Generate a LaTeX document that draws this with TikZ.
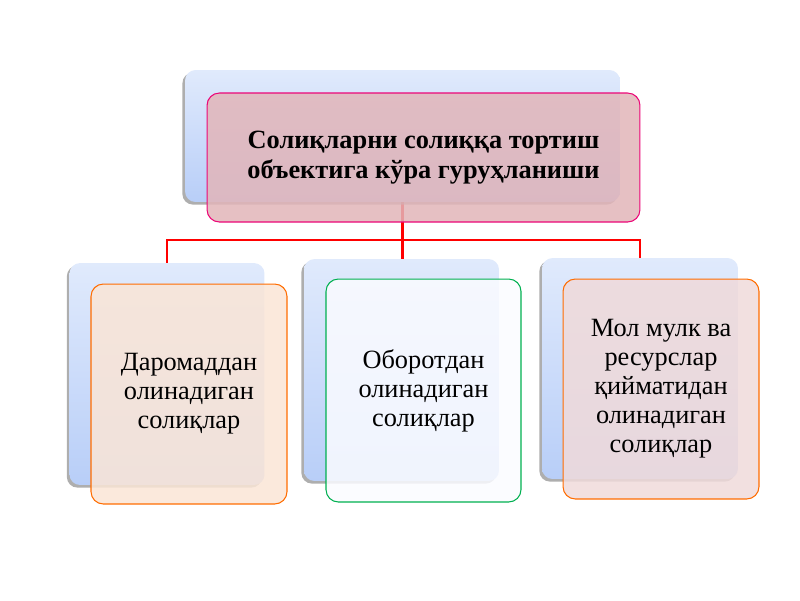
\documentclass[tikz,border=0pt]{standalone}
\usepackage{fontspec}
\setmainfont{Liberation Serif}
\usepackage{xcolor}
\usetikzlibrary{shadows}

\definecolor{backtop}{HTML}{E0EAFC}
\definecolor{backbot}{HTML}{B8CEF8}
\definecolor{linkred}{HTML}{FF0000}

\begin{document}
\begin{tikzpicture}[
    x=0.02cm, y=-0.02cm,
    backbox/.style={rectangle, rounded corners=6pt, top color=backtop, bottom color=backbot,
        drop shadow={shadow xshift=-1.5pt, shadow yshift=-1.5pt, fill=black!45, opacity=0.7}},
    frontbox/.style={rectangle, rounded corners=7pt, draw, line width=0.6pt,
        fill opacity=0.85, text opacity=1, align=center},
    link/.style={draw=linkred, line width=1.5pt}
]

% canvas
\useasboundingbox (0,0) rectangle (800,600);

% Anchors for the connectors
\coordinate (topc) at (402.5,136);
\coordinate (fork) at (402.5,240);
\coordinate (leftc) at (167,374);
\coordinate (midc) at (401.5,370);
\coordinate (rightc) at (640,368.5);

% Connectors (behind the boxes)
\draw[link] (topc) -- (fork);
\draw[link] (fork) -| (leftc);
\draw[link] (fork) -- (fork |- midc);
\draw[link] (fork) -| (rightc);

% Back boxes
\node[backbox, minimum width=8.7cm, minimum height=2.64cm] (top) at (topc) {};
\node[backbox, minimum width=3.9cm, minimum height=4.44cm] (left) at (leftc) {};
\node[backbox, minimum width=3.9cm, minimum height=4.44cm] (mid) at (midc) {};
\node[backbox, minimum width=3.92cm, minimum height=4.42cm] (right) at (rightc) {};

% Front boxes
\node[frontbox, draw=magenta!80!red, fill={rgb,255:red,226;green,181;blue,185},
    minimum width=8.66cm, minimum height=2.58cm, font=\bfseries\fontsize{15}{17.5}\selectfont]
    (root) at (423.5,157.5) {Солиқларни солиққа тортиш\\объектига кўра гуруҳланиши};
\node[frontbox, draw=orange!85!red, fill={rgb,255:red,250;green,229;blue,214},
    minimum width=3.92cm, minimum height=4.4cm, font=\fontsize{15}{16.5}\selectfont]
    (income) at (189,394) {Даромаддан\\олинадиган\\солиқлар};
\node[frontbox, draw={rgb,255:red,0;green,176;blue,80}, fill={rgb,255:red,250;green,251;blue,255},
    minimum width=3.9cm, minimum height=4.46cm, font=\fontsize{15}{16.5}\selectfont]
    (turnover) at (423.5,390.5) {Оборотдан\\олинадиган\\солиқлар};
\node[frontbox, draw=orange!85!red, fill={rgb,255:red,240;green,218;blue,218},
    minimum width=3.92cm, minimum height=4.4cm, font=\fontsize{15}{16.5}\selectfont]
    (property) at (661,389) {Мол мулк ва\\ресурслар\\қийматидан\\олинадиган\\солиқлар};

\end{tikzpicture}
\end{document}
